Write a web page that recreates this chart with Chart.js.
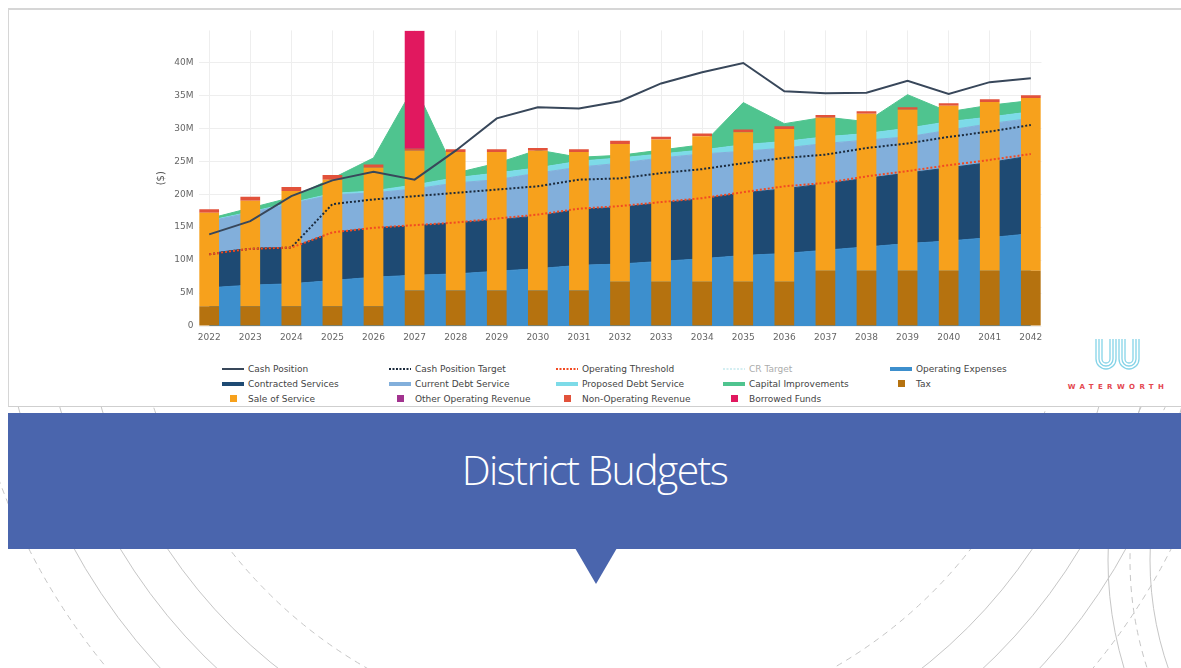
<!DOCTYPE html>
<html lang="en">
<head>
  <meta charset="UTF-8" />
  <title>District Budgets</title>
  <script src="https://cdn.jsdelivr.net/npm/chart.js"></script>
  <style>
    body {
      margin: 0;
      width: 1181px;
      height: 668px;
      overflow: hidden;
      background: #fff;
      position: relative;
      font-family: 'DejaVu Sans', sans-serif;
    }

    #bg { position: absolute; left: 0; top: 0; }

    .chart-box {
      position: absolute;
      left: 8px;
      top: 8px;
      width: 1173px;
      height: 399px;
      background: #fff;
      border-top: 2px solid #d6d6d6;
      border-left: 1px solid #d6d6d6;
      border-bottom: 1px solid #cfcfcf;
      box-sizing: border-box;
    }

    #budgetChart { position: absolute; left: 150px; top: 20px; }

    .legend {
      position: absolute;
      left: 222px;
      top: 361px;
      display: grid;
      grid-template-columns: repeat(5, 167px);
      font-size: 9px;
      color: #444;
    }

    .legend-item {
      display: flex;
      align-items: center;
      height: 15px;
      white-space: nowrap;
    }

    .legend-item.off { opacity: 0.45; }

    .logo {
      position: absolute;
      left: 1062px;
      top: 339px;
      width: 112px;
      text-align: center;
    }

    .logo span {
      display: block;
      margin-top: 6px;
      font-size: 7px;
      font-weight: bold;
      letter-spacing: 4.4px;
      color: #e4474f;
    }

    .banner {
      position: absolute;
      left: 8px;
      top: 413px;
      right: 0;
      height: 136px;
      background: #4a65ad;
      color: #fff;
      text-align: center;
    }

    .banner h1 {
      margin: 32px 0 0 0;
      font-family: 'Open Sans', sans-serif;
      font-weight: 300;
      font-size: 41px;
      line-height: 48px;
      letter-spacing: -1.6px;
    }

    .arrow {
      position: absolute;
      left: 575px;
      top: 548px;
      width: 0;
      height: 0;
      border-left: 21px solid transparent;
      border-right: 21px solid transparent;
      border-top: 36px solid #4a65ad;
    }
  </style>
</head>
<body>
  <svg id="bg" width="1181" height="668">
    <defs>
      <clipPath id="lower"><rect x="0" y="405" width="1181" height="263" /></clipPath>
    </defs>
    <g fill="none" stroke="#c6c6c6" stroke-width="1" clip-path="url(#lower)">
      <circle cx="600" cy="260" r="470" stroke-dasharray="6 5" />
      <circle cx="600" cy="260" r="520" />
      <circle cx="600" cy="260" r="560" />
      <circle cx="600" cy="260" r="600" />
      <circle cx="600" cy="260" r="640" stroke-dasharray="6 5" />
      <circle cx="1480" cy="560" r="330" />
      <circle cx="1480" cy="560" r="350" stroke-dasharray="6 5" />
      <circle cx="1480" cy="560" r="372" />
    </g>
  </svg>

  <div class="chart-box"></div>
  <canvas id="budgetChart" width="910" height="330"></canvas>
  <div class="legend" id="legend"></div>

  <div class="logo">
    <svg width="50" height="34" viewBox="0 0 50 34">
      <g fill="none" stroke="#86d4e8" stroke-width="1.3">
        <path d="M3 0 V20 a10 10 0 0 0 20 0 V0" />
        <path d="M6 0 V20 a7 7 0 0 0 14 0 V0" />
        <path d="M9 0 V20 a4 4 0 0 0 8 0 V0" />
        <path d="M26 0 V20 a10 10 0 0 0 20 0 V0" />
        <path d="M29 0 V20 a7 7 0 0 0 14 0 V0" />
        <path d="M32 0 V20 a4 4 0 0 0 8 0 V0" />
      </g>
    </svg>
    <span>WATERWORTH</span>
  </div>

  <div class="banner"><h1>District Budgets</h1></div>
  <div class="arrow"></div>

  <script>
  // values in millions of dollars
  const years = [2022, 2023, 2024, 2025, 2026, 2027, 2028, 2029, 2030, 2031, 2032,
                 2033, 2034, 2035, 2036, 2037, 2038, 2039, 2040, 2041, 2042];

  const cashPosition       = [13.9, 15.9, 19.7, 22.1, 23.4, 22.2, 26.6, 31.5, 33.2, 33.0, 34.1,
                              36.8, 38.5, 39.9, 35.6, 35.3, 35.4, 37.2, 35.2, 37.0, 37.6];
  const cashPositionTarget = [10.9, 11.7, 11.9, 18.5, 19.2, 19.7, 20.2, 20.7, 21.2, 22.2, 22.4,
                              23.2, 23.8, 24.7, 25.5, 26.0, 27.0, 27.7, 28.7, 29.5, 30.5];
  const operatingThreshold = [10.9, 11.7, 11.9, 14.2, 14.9, 15.3, 15.7, 16.3, 16.9, 17.8, 18.2,
                              18.8, 19.4, 20.3, 21.2, 21.7, 22.7, 23.5, 24.4, 25.2, 26.1];
  const crTarget = []; // hidden trace, not shown in the picture

  const operatingExpenses   = [5.8, 6.2, 6.4, 6.9, 7.4, 7.7, 7.9, 8.3, 8.7, 9.2, 9.4,
                               9.8, 10.2, 10.7, 11.0, 11.5, 12.0, 12.5, 12.9, 13.4, 14.0];
  const contractedServices  = [5.2, 5.6, 5.5, 7.3, 7.5, 7.5, 7.8, 7.8, 8.0, 8.5, 8.6,
                               8.9, 9.1, 9.5, 9.8, 10.1, 10.4, 10.7, 11.1, 11.4, 11.8];
  const currentDebtService  = [4.9, 5.4, 6.7, 5.7, 5.3, 5.6, 6.0, 6.1, 6.5, 6.4, 6.7,
                               6.8, 6.8, 6.3, 6.2, 6.1, 5.8, 5.5, 5.7, 5.9, 5.7];
  const proposedDebtService = [0.1, 0.1, 0.1, 0.2, 0.3, 0.6, 0.8, 1.0, 0.8, 0.9, 0.8,
                               0.6, 0.6, 1.0, 1.0, 1.0, 1.0, 1.3, 1.3, 1.0, 1.0];
  const capitalImprovements = [0.3, 0.6, 0.8, 2.3, 5.0, 15.1, 0.7, 1.5, 2.7, 0.6, 0.4,
                               0.6, 0.8, 6.4, 2.7, 3.0, 1.8, 5.1, 1.5, 1.8, 1.7];

  const tax            = [3.0, 3.0, 3.0, 3.0, 3.0, 5.4, 5.4, 5.4, 5.4, 5.4, 6.7,
                          6.7, 6.7, 6.7, 6.7, 8.4, 8.4, 8.4, 8.4, 8.4, 8.4];
  const saleOfService  = [14.2, 16.0, 17.5, 19.2, 21.0, 21.2, 21.0, 21.0, 21.2, 21.0, 20.9,
                          21.6, 22.1, 22.7, 23.2, 23.2, 23.8, 24.4, 25.0, 25.6, 26.2];
  const otherOperating = [0, 0, 0, 0, 0, 0, 0, 0, 0, 0, 0, 0, 0, 0, 0, 0, 0, 0, 0, 0, 0];
  const nonOperating   = [0.5, 0.6, 0.6, 0.7, 0.5, 0.3, 0.4, 0.4, 0.4, 0.4, 0.5,
                          0.4, 0.4, 0.4, 0.4, 0.4, 0.4, 0.4, 0.4, 0.4, 0.4];
  const borrowedFunds  = [0, 0, 0, 0, 0, 17.9, 0, 0, 0, 0, 0, 0, 0, 0, 0, 0, 0, 0, 0, 0, 0];

  const yTicks = [0, 5, 10, 15, 20, 25, 30, 35, 40];

  const xy = arr => arr.map((v, i) => ({ x: years[i], y: v }));

  function lineSet(label, data, color, dash, order, hidden) {
    return {
      type: 'line', label, data: xy(data),
      borderColor: color, backgroundColor: color,
      borderWidth: 2, borderDash: dash, pointRadius: 0,
      fill: false, stack: label, order, hidden: !!hidden
    };
  }

  function areaSet(label, data, color, fill) {
    return {
      type: 'line', label, data: xy(data),
      borderColor: color, backgroundColor: color,
      borderWidth: 1, pointRadius: 0,
      fill, stack: 'spending', order: 4
    };
  }

  function barSet(label, data, color) {
    return {
      type: 'bar', label, data: xy(data),
      backgroundColor: color, borderWidth: 0,
      barPercentage: 0.48, categoryPercentage: 1,
      stack: 'revenue', order: 3
    };
  }

  const datasets = [
    lineSet('Cash Position', cashPosition, '#38475a', [], 0),
    lineSet('Cash Position Target', cashPositionTarget, '#1b2a3c', [2, 2], 2),
    lineSet('Operating Threshold', operatingThreshold, '#f24a22', [2, 2], 1),
    lineSet('CR Target', crTarget, '#9fdbe3', [2, 2], 2, true),
    areaSet('Operating Expenses', operatingExpenses, '#3d8fcd', 'origin'),
    areaSet('Contracted Services', contractedServices, '#1e4a73', '-1'),
    areaSet('Current Debt Service', currentDebtService, '#82afdb', '-1'),
    areaSet('Proposed Debt Service', proposedDebtService, '#7ddbe8', '-1'),
    areaSet('Capital Improvements', capitalImprovements, '#4fc48f', '-1'),
    barSet('Tax', tax, '#b5720f'),
    barSet('Sale of Service', saleOfService, '#f7a11c'),
    barSet('Other Operating Revenue', otherOperating, '#a2338f'),
    barSet('Non-Operating Revenue', nonOperating, '#e2523b'),
    barSet('Borrowed Funds', borrowedFunds, '#e1185f')
  ];

  const tickFont = { family: 'DejaVu Sans', size: 9 };

  const chart = new Chart(document.getElementById('budgetChart'), {
    type: 'bar',
    data: { datasets },
    options: {
      responsive: false,
      animation: false,
      layout: { padding: { top: 8, right: 18.5, left: 0, bottom: 0 } },
      plugins: {
        legend: { display: false },
        tooltip: { enabled: false }
      },
      scales: {
        x: {
          type: 'linear',
          min: years[0] - 0.26,
          max: years[years.length - 1] + 0.26,
          offset: false,
          grid: { color: '#eeeeee', drawTicks: false, offset: false },
          border: { display: false },
          afterBuildTicks: s => { s.ticks = years.map(v => ({ value: v })); },
          afterFit: s => { s.height = 24; },
          ticks: {
            autoSkip: false, maxRotation: 0, padding: 6,
            font: tickFont, color: '#666',
            callback: v => String(v)
          }
        },
        y: {
          stacked: true,
          min: 0,
          max: 44.85,
          grid: { color: '#eeeeee', drawTicks: false },
          border: { display: false },
          afterBuildTicks: s => { s.ticks = yTicks.map(v => ({ value: v })); },
          afterFit: s => { s.width = 48.5; },
          title: {
            display: true, text: '($)',
            font: { family: 'DejaVu Sans', size: 10 }, color: '#555',
            padding: { top: 5, bottom: 0 }
          },
          ticks: {
            padding: 5, font: tickFont, color: '#666',
            callback: v => v === 0 ? '0' : v + 'M'
          }
        }
      }
    }
  });

  // legend laid out like the original 5-column grid
  const legend = document.getElementById('legend');
  chart.data.datasets.forEach(ds => {
    const item = document.createElement('div');
    item.className = 'legend-item' + (ds.hidden ? ' off' : '');
    let sym;
    if (ds.type === 'bar') {
      sym = `<span style="display:inline-block;width:7px;height:7px;background:${ds.backgroundColor};margin:0 11px 0 8px"></span>`;
    } else {
      const w = ds.fill ? 4 : 2;
      const dash = ds.borderDash && ds.borderDash.length ? 'stroke-dasharray="2 1.5"' : '';
      sym = `<svg width="22" height="10" style="margin-right:4px"><line x1="0" y1="5" x2="22" y2="5" stroke="${ds.borderColor}" stroke-width="${w}" ${dash}/></svg>`;
    }
    item.innerHTML = sym + `<span>${ds.label}</span>`;
    legend.appendChild(item);
  });
  </script>
</body>
</html>
